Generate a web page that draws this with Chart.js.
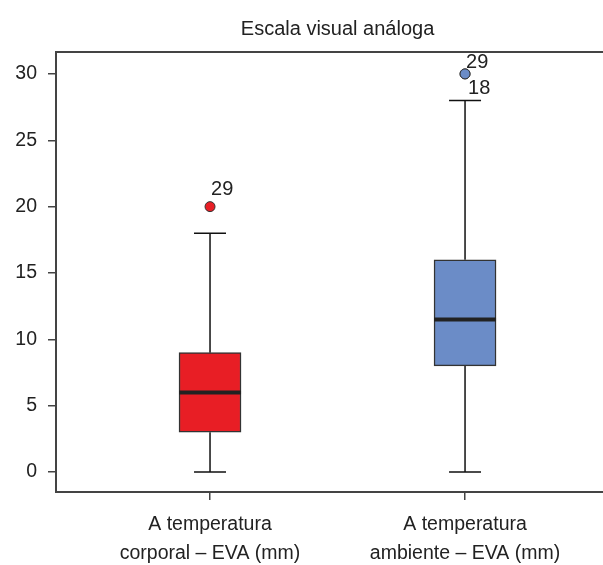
<!DOCTYPE html>
<html><head><meta charset="utf-8">
<script src="https://cdn.jsdelivr.net/npm/chart.js@4"></script>
<style>html,body{margin:0;padding:0;background:#fff;overflow:hidden}canvas{display:block}</style>
</head><body><canvas id="c" width="603" height="565" style="width:603px;height:565px"></canvas>
<script>
const categories = [['A temperatura','corporal – EVA (mm)'],['A temperatura','ambiente – EVA (mm)']];
const whiskerLow = [0, 0];
const q1 = [3, 8];
const median = [6, 11.5];
const q3 = [9, 16];
const whiskerHigh = [18, 28];
const boxColors = ['#E81E25', '#6B8CC7'];
const outlierCategory = [0, 1, 1];
const outlierValue = [20, 30, 30];
const outlierLabel = ['29', '29', '18'];
const yTicks = [0, 5, 10, 15, 20, 25, 30];
const titleText = 'Escala visual análoga';

const FONT = '"Liberation Sans", Arial, sans-serif';
const TXT = '#222';
const AX = '#444';

const boxPlugin = {
  id: 'boxPlugin',
  beforeDatasetsDraw(chart) {
    const {ctx, scales: {x, y}} = chart;
    ctx.save();
    ctx.strokeStyle = '#111';
    ctx.lineWidth = 1.5;
    categories.forEach((c, i) => {
      const px = x.getPixelForValue(i);
      ctx.beginPath();
      ctx.moveTo(px, y.getPixelForValue(whiskerLow[i]));
      ctx.lineTo(px, y.getPixelForValue(q1[i]));
      ctx.moveTo(px, y.getPixelForValue(q3[i]));
      ctx.lineTo(px, y.getPixelForValue(whiskerHigh[i]));
      [whiskerLow[i], whiskerHigh[i]].forEach(v => {
        const py = y.getPixelForValue(v);
        ctx.moveTo(px - 16, py);
        ctx.lineTo(px + 16, py);
      });
      ctx.stroke();
    });
    ctx.restore();
  },
  afterDatasetsDraw(chart) {
    const {ctx, scales: {x, y}} = chart;
    ctx.save();
    ctx.strokeStyle = '#222';
    ctx.lineWidth = 4;
    categories.forEach((c, i) => {
      const px = x.getPixelForValue(i);
      const py = y.getPixelForValue(median[i]);
      ctx.beginPath();
      ctx.moveTo(px - 31, py);
      ctx.lineTo(px + 31, py);
      ctx.stroke();
    });
    ctx.fillStyle = TXT;
    ctx.font = '20px ' + FONT;
    ctx.textAlign = 'left';
    ctx.textBaseline = 'middle';
    const seen = {};
    outlierValue.forEach((v, k) => {
      const key = outlierCategory[k] + '_' + v;
      const n = seen[key] || 0;
      seen[key] = n + 1;
      const dup = outlierValue.filter((w, j) => w === v && outlierCategory[j] === outlierCategory[k]).length > 1;
      const px = x.getPixelForValue(outlierCategory[k]);
      const py = y.getPixelForValue(v);
      const dy = dup ? (n === 0 ? -11 : 15) : -17;
      ctx.fillText(outlierLabel[k], px + (n === 0 ? 1 : 3), py + dy);
    });
    ctx.restore();
  },
  afterDraw(chart) {
    const {ctx, chartArea, scales: {x}} = chart;
    ctx.save();
    ctx.strokeStyle = AX;
    ctx.lineWidth = 2;
    ctx.beginPath();
    ctx.moveTo(chartArea.left - 1, chartArea.top);
    ctx.lineTo(chartArea.right, chartArea.top);
    ctx.stroke();
    ctx.fillStyle = TXT;
    ctx.font = '20px ' + FONT;
    ctx.textAlign = 'center';
    ctx.textBaseline = 'middle';
    ctx.fillText(titleText, x.getPixelForValue(0.5), 29);
    ctx.restore();
  }
};

new Chart(document.getElementById('c'), {
  type: 'bar',
  data: {
    datasets: [
      {
        type: 'scatter',
        data: outlierValue.map((v, k) => ({x: outlierCategory[k], y: v})),
        pointBackgroundColor: outlierCategory.map(i => boxColors[i]),
        pointBorderColor: '#333',
        pointBorderWidth: 1,
        pointRadius: 5,
        order: 0
      },
      {
        data: categories.map((c, i) => ({x: i, y: [q1[i], q3[i]]})),
        backgroundColor: boxColors,
        borderColor: '#333',
        borderWidth: 1.5,
        borderSkipped: false,
        barThickness: 62,
        order: 1
      }
    ]
  },
  options: {
    responsive: false,
    maintainAspectRatio: false,
    animation: false,
    events: [],
    devicePixelRatio: 1,
    layout: {autoPadding: false, padding: {top: 52, right: 0, left: 0, bottom: 0}},
    plugins: {legend: {display: false}, tooltip: {enabled: false}, title: {display: false}},
    scales: {
      x: {
        type: 'linear',
        min: -0.604,
        max: 1.541,
        offset: false,
        afterBuildTicks: s => { s.ticks = [{value: 0}, {value: 1}]; },
        afterFit: s => { s.height = 73; s.paddingLeft = 0; s.paddingRight = 0; },
        grid: {display: true, drawOnChartArea: false, drawTicks: true, tickLength: 8, color: AX, lineWidth: 1.5, offset: false},
        border: {display: true, color: AX, width: 2},
        ticks: {
          color: TXT,
          font: {family: FONT, size: 19.5, lineHeight: 1.5},
          padding: 10,
          maxRotation: 0,
          autoSkip: false,
          callback: v => categories[v]
        }
      },
      y: {
        min: -1.5,
        max: 31.65,
        afterBuildTicks: s => { s.ticks = yTicks.map(v => ({value: v})); },
        afterFit: s => { s.width = 56; s.paddingTop = 0; s.paddingBottom = 0; },
        grid: {display: true, drawOnChartArea: false, drawTicks: true, tickLength: 8, color: AX, lineWidth: 1.5},
        border: {display: true, color: AX, width: 2},
        ticks: {
          color: TXT,
          font: {family: FONT, size: 19.5},
          padding: 11,
          callback: v => String(v)
        }
      }
    }
  },
  plugins: [boxPlugin]
});
</script>
</body></html>
